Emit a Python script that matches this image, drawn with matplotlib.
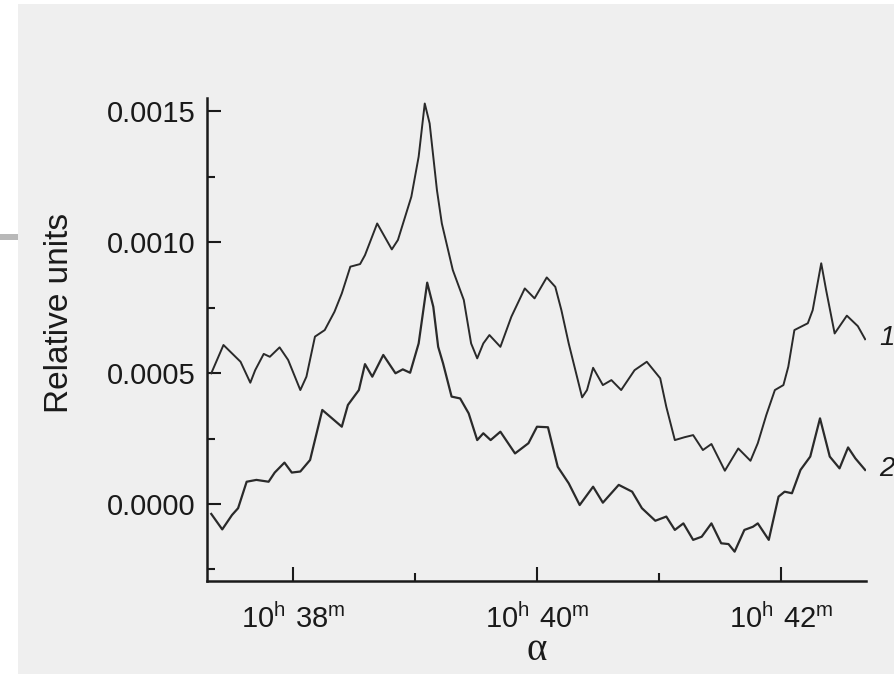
import numpy as np
import matplotlib
matplotlib.use("Agg")
from matplotlib import pyplot as plt
from matplotlib.patches import Rectangle
from matplotlib.ticker import FixedLocator, MultipleLocator, FuncFormatter

plt.rcParams['font.family'] = ['Liberation Sans', 'DejaVu Sans']
plt.rcParams['mathtext.default'] = 'regular'

# right ascension, minutes after 10h
ra1 = [37.33, 37.43, 37.50, 37.57, 37.65, 37.69, 37.76, 37.81, 37.89, 37.96,
       38.06, 38.11, 38.18, 38.26, 38.34, 38.40, 38.47, 38.55, 38.59, 38.69,
       38.81, 38.86, 38.97, 39.03, 39.08, 39.12, 39.18, 39.22, 39.31, 39.40,
       39.46, 39.51, 39.56, 39.61, 39.70, 39.79, 39.90, 39.98, 40.08, 40.15,
       40.20, 40.26, 40.37, 40.41, 40.46, 40.54, 40.61, 40.69, 40.80, 40.90,
       41.01, 41.06, 41.13, 41.21, 41.28, 41.36, 41.43, 41.54, 41.65, 41.75,
       41.81, 41.88, 41.95, 42.02, 42.06, 42.11, 42.22, 42.26, 42.33, 42.37,
       42.44, 42.54, 42.63, 42.69]
# curve 1, units of 1e-4
sig1 = [4.99, 6.07, 5.75, 5.43, 4.63, 5.11, 5.73, 5.62, 5.98, 5.50,
        4.35, 4.86, 6.39, 6.64, 7.34, 8.04, 9.06, 9.16, 9.50, 10.71,
        9.72, 10.08, 11.73, 13.26, 15.29, 14.53, 11.98, 10.71, 8.93, 7.79,
        6.13, 5.56, 6.13, 6.45, 6.00, 7.15, 8.23, 7.85, 8.65, 8.29,
        7.40, 6.13, 4.07, 4.35, 5.20, 4.54, 4.73, 4.35, 5.11, 5.43,
        4.80, 3.71, 2.44, 2.55, 2.63, 2.06, 2.29, 1.27, 2.12, 1.65,
        2.32, 3.40, 4.35, 4.54, 5.24, 6.64, 6.90, 7.40, 9.19, 8.17,
        6.51, 7.19, 6.79, 6.29]

ra2 = [37.33, 37.42, 37.50, 37.55, 37.62, 37.70, 37.80, 37.85, 37.93, 37.99,
       38.06, 38.14, 38.24, 38.32, 38.40, 38.45, 38.54, 38.59, 38.65, 38.74,
       38.84, 38.90, 38.96, 39.03, 39.10, 39.15, 39.19, 39.23, 39.30, 39.37,
       39.44, 39.51, 39.56, 39.62, 39.70, 39.82, 39.93, 40.00, 40.09, 40.17,
       40.26, 40.35, 40.46, 40.54, 40.67, 40.78, 40.86, 40.97, 41.06, 41.13,
       41.20, 41.28, 41.35, 41.43, 41.51, 41.57, 41.62, 41.70, 41.77, 41.81,
       41.90, 41.98, 42.03, 42.09, 42.16, 42.24, 42.32, 42.40, 42.48, 42.55,
       42.61, 42.69]
# curve 2, units of 1e-4
sig2 = [-0.38, -0.97, -0.42, -0.16, 0.85, 0.92, 0.85, 1.20, 1.58, 1.20,
        1.24, 1.68, 3.59, 3.27, 2.95, 3.78, 4.35, 5.34, 4.86, 5.69,
        4.99, 5.14, 5.01, 6.13, 8.45, 7.53, 6.00, 5.37, 4.10, 4.03,
        3.46, 2.44, 2.70, 2.44, 2.76, 1.93, 2.32, 2.95, 2.93, 1.42,
        0.79, -0.04, 0.66, 0.05, 0.73, 0.47, -0.16, -0.64, -0.48, -0.99,
        -0.74, -1.37, -1.25, -0.74, -1.50, -1.53, -1.82, -0.99, -0.87, -0.74,
        -1.37, 0.28, 0.47, 0.41, 1.30, 1.81, 3.27, 1.81, 1.36, 2.16,
        1.74, 1.30]

xticks = [38, 40, 42]
xticklabels = [r'$10^{h}\ 38^{m}$', r'$10^{h}\ 40^{m}$', r'$10^{h}\ 42^{m}$']
curve_names = ['1', '2']

fig = plt.figure(figsize=(8.95, 6.74), dpi=100, facecolor='white')
# grey page behind the plot, white strip on the left and top
fig.add_artist(Rectangle((18/895, -0.01), 1, 1.01 - 4/674, transform=fig.transFigure,
                         facecolor='#efefef', edgecolor='none', zorder=-10))
fig.add_artist(Rectangle((0, 1 - 240/674), 18/895, 6/674, transform=fig.transFigure,
                         facecolor='#b8b8b8', edgecolor='none', zorder=-9))

ax = fig.add_axes([207/895, 1 - 581/674, 659/895, 483/674])
ax.set_facecolor('none')

s1 = np.array(sig1) * 1e-4
s2 = np.array(sig2) * 1e-4
ax.plot(ra1, s1, color='#2a2a2a', lw=1.4, solid_joinstyle='round')
ax.plot(ra2, s2, color='#2a2a2a', lw=1.6, solid_joinstyle='round')

for ra, s, name in zip([ra1, ra2], [s1, s2], curve_names):
    ax.annotate(name, (ra[-1], s[-1]), xytext=(10, 1), textcoords='offset points',
                ha='left', va='center', fontsize=20, style='italic',
                color='#1a1a1a', annotation_clip=False)

ax.set_xlim(37.295, 42.697)
ax.set_ylim(-0.000294, 0.00155)

ax.xaxis.set_major_locator(FixedLocator(xticks))
ax.set_xticklabels(xticklabels)
ax.xaxis.set_minor_locator(FixedLocator([39, 41]))
ax.yaxis.set_major_locator(MultipleLocator(0.0005))
ax.yaxis.set_minor_locator(MultipleLocator(0.00025))
ax.yaxis.set_major_formatter(FuncFormatter(lambda v, p: '%.4f' % v))

ax.tick_params(which='both', direction='in', colors='#1a1a1a', width=1.5,
               labelsize=21, top=False, right=False)
ax.tick_params(which='major', length=10)
ax.tick_params(which='minor', length=6)
ax.tick_params(axis='y', pad=8)
ax.tick_params(axis='x', pad=16)

for side in ['top', 'right']:
    ax.spines[side].set_visible(False)
for side in ['left', 'bottom']:
    ax.spines[side].set_linewidth(1.8)
    ax.spines[side].set_color('#1a1a1a')

fig.text(60/895, 1 - 313/674, 'Relative units', rotation=90,
         ha='center', va='center', fontsize=24, color='#1a1a1a')
fig.text(537/895, 1 - 650/674, 'α', ha='center', va='center',
         fontsize=28, family=['Liberation Serif', 'DejaVu Serif'], color='#1a1a1a')

fig.savefig('out.png', dpi=100, facecolor=fig.get_facecolor())
